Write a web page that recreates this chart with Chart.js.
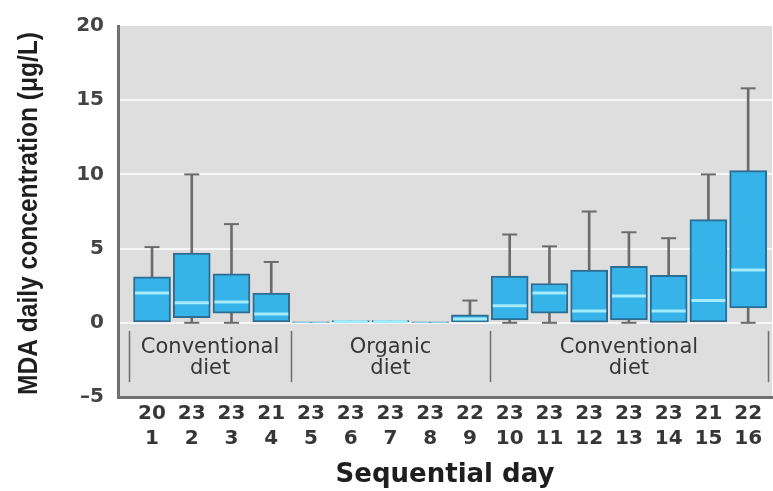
<!DOCTYPE html>
<html>
<head>
<meta charset="utf-8">
<script src="https://cdn.jsdelivr.net/npm/chart.js@4/dist/chart.umd.min.js"></script>
<style>
  html, body { margin: 0; padding: 0; background: #fff; }
  #wrap { width: 773px; height: 491px; }
</style>
</head>
<body>
<div id="wrap"><canvas id="chart" width="773" height="491"></canvas></div>
<script>
// sequential day and number of samples (n) per day
const days = [1, 2, 3, 4, 5, 6, 7, 8, 9, 10, 11, 12, 13, 14, 15, 16];
const samples = [20, 23, 23, 21, 23, 23, 23, 23, 22, 23, 23, 23, 23, 23, 21, 22];

// MDA daily concentration (µg/L) box plot statistics
const minValues = [0, 0, 0, 0, 0, 0, 0, 0, 0, 0, 0, 0, 0, 0, 0, 0];
const q1Values = [0, 0.35, 0.65, 0, 0, 0, 0, 0, 0, 0.2, 0.65, 0.05, 0.2, 0.02, 0, 1.0];
const medianValues = [2.0, 1.35, 1.4, 0.6, 0, 0.07, 0.07, 0, 0.25, 1.15, 2.0, 0.8, 1.8, 0.8, 1.5, 3.55];
const q3Values = [3.1, 4.7, 3.3, 2.0, 0.02, 0.15, 0.15, 0.02, 0.53, 3.15, 2.65, 3.55, 3.8, 3.2, 6.95, 10.25];
const maxValues = [5.1, 10.0, 6.65, 4.1, 0.02, 0.15, 0.15, 0.02, 1.5, 5.95, 5.15, 7.5, 6.1, 5.7, 10.0, 15.8];

const yTicks = [-5, 0, 5, 10, 15, 20];
const yTitle = "MDA daily concentration (\u03bcg/L)";

// diet periods shown under the boxes
const dietGroups = [
  { label: ["Conventional", "diet"], from: 0.42, to: 4.5 },
  { label: ["Organic", "diet"], from: 4.5, to: 9.5 },
  { label: ["Conventional", "diet"], from: 9.5, to: 16.5 },
];

const upperWhiskers = days.map((d, i) => ({ x: d, y: [q3Values[i], maxValues[i]] }));
const lowerWhiskers = days
  .map((d, i) => ({ x: d, y: [minValues[i], q1Values[i]] }))
  .filter((p) => p.y[1] - p.y[0] > 0.1);
const upperCaps = days
  .map((d, i) => ({ x: d, y: maxValues[i] }))
  .filter((p, i) => maxValues[i] - q3Values[i] > 0.1);
const lowerCaps = lowerWhiskers.map((p) => ({ x: p.x, y: p.y[0] }));
const boxes = days.map((d, i) => ({ x: d, y: [q1Values[i], q3Values[i]] }));
// flat boxes (no spread) show no median stripe
const medians = days
  .map((d, i) => ({ x: d, y: medianValues[i] }))
  .filter((p, i) => q3Values[i] - q1Values[i] > 0.05);

const whiskerColor = "#6b6b6b";
const textColor = "#363636";

const plotBackground = {
  id: "plotBackground",
  beforeDraw(chart) {
    const { ctx, chartArea: a } = chart;
    ctx.save();
    ctx.fillStyle = "#dedede";
    ctx.fillRect(a.left, a.top, a.right - a.left, a.bottom - a.top);
    ctx.restore();
  },
};

// narrow bold y title, squeezed to the height of the plot like the original
const narrowYTitle = {
  id: "narrowYTitle",
  afterDraw(chart) {
    const { ctx, chartArea: a } = chart;
    ctx.save();
    ctx.font = "bold 28px 'Liberation Sans'";
    ctx.fillStyle = "#1e1e1e";
    ctx.textAlign = "center";
    ctx.textBaseline = "middle";
    const w = ctx.measureText(yTitle).width;
    const k = Math.min(1, (a.bottom - a.top - 8) / w);
    ctx.translate(29, (a.top + a.bottom) / 2 + 2);
    ctx.rotate(-Math.PI / 2);
    ctx.scale(k, 1);
    ctx.fillText(yTitle, 0, 0);
    ctx.restore();
  },
};

const dietLabels = {
  id: "dietLabels",
  afterDatasetsDraw(chart) {
    const { ctx, scales: { x, y } } = chart;
    ctx.save();
    ctx.strokeStyle = "#6e6e6e";
    ctx.lineWidth = 1.5;
    const top = y.getPixelForValue(-0.55);
    const bottom = y.getPixelForValue(-4.0);
    const edges = [dietGroups[0].from, ...dietGroups.map((g) => g.to)];
    edges.forEach((e) => {
      const px = Math.round(x.getPixelForValue(e)) + 0.5;
      ctx.beginPath();
      ctx.moveTo(px, top);
      ctx.lineTo(px, bottom);
      ctx.stroke();
    });
    ctx.fillStyle = textColor;
    ctx.font = "21px 'DejaVu Sans'";
    ctx.textAlign = "center";
    ctx.textBaseline = "middle";
    dietGroups.forEach((g) => {
      const cx = (x.getPixelForValue(g.from) + x.getPixelForValue(g.to)) / 2;
      ctx.fillText(g.label[0], cx, y.getPixelForValue(-1.7));
      ctx.fillText(g.label[1], cx, y.getPixelForValue(-3.05));
    });
    ctx.restore();
  },
};

new Chart(document.getElementById("chart"), {
  data: {
    datasets: [
      {
        type: "line",
        data: medians,
        showLine: false,
        pointStyle: "line",
        pointRadius: 17,
        pointHoverRadius: 17,
        borderColor: "#a6ebfa",
        borderWidth: 3,
        order: 0,
      },
      {
        type: "bar",
        data: boxes,
        backgroundColor: "#36b4e9",
        borderColor: "#2c6d93",
        borderWidth: 2,
        borderSkipped: false,
        barThickness: 37,
        grouped: false,
        order: 1,
      },
      {
        type: "line",
        data: [...upperCaps, ...lowerCaps],
        showLine: false,
        pointStyle: "line",
        pointRadius: 7.5,
        pointHoverRadius: 7.5,
        borderColor: whiskerColor,
        borderWidth: 2,
        order: 2,
      },
      {
        type: "bar",
        data: [...upperWhiskers, ...lowerWhiskers],
        backgroundColor: whiskerColor,
        borderWidth: 0,
        barThickness: 2,
        grouped: false,
        order: 3,
      },
    ],
  },
  options: {
    responsive: false,
    animation: false,
    events: [],
    layout: { autoPadding: false, padding: { left: 0, right: 1, top: 23, bottom: 0 } },
    plugins: {
      legend: { display: false },
      tooltip: { enabled: false },
    },
    scales: {
      x: {
        type: "linear",
        offset: false,
        min: 0.144,
        max: 16.6,
        afterBuildTicks: (s) => {
          s.ticks = days.map((d) => ({ value: d }));
        },
        afterFit: (s) => {
          s.height = 94;
          s.paddingLeft = 0;
          s.paddingRight = 0;
        },
        ticks: {
          autoSkip: false,
          maxRotation: 0,
          padding: 4,
          color: textColor,
          font: { family: "'DejaVu Sans'", size: 20, weight: "bold", lineHeight: "25px" },
          callback: (v) => {
            const i = days.indexOf(v);
            return i < 0 ? "" : [String(samples[i]), String(days[i])];
          },
        },
        grid: { display: false, drawTicks: false },
        border: { display: true, color: "#707070", width: 3 },
        title: {
          display: true,
          text: "Sequential day",
          color: "#1e1e1e",
          font: { family: "'DejaVu Sans'", size: 26, weight: "bold", lineHeight: 1.2 },
          padding: { top: 0, bottom: 0 },
        },
      },
      y: {
        min: -5,
        max: 20,
        afterBuildTicks: (s) => {
          s.ticks = yTicks.map((v) => ({ value: v }));
        },
        afterFit: (s) => {
          s.width = 118;
        },
        ticks: {
          padding: 14,
          color: "#444",
          font: { family: "'DejaVu Sans'", size: 20, weight: "bold" },
          callback: (v) => (v < 0 ? "\u2013" + Math.abs(v) : String(v)),
        },
        grid: {
          drawTicks: false,
          lineWidth: 2,
          color: (c) => (c.tick && c.tick.value >= 0 && c.tick.value < 20 ? "#f7f7f7" : "rgba(0,0,0,0)"),
        },
        border: { display: true, color: "#707070", width: 3 },
        title: { display: false },
      },
    },
  },
  plugins: [plotBackground, dietLabels, narrowYTitle],
});
</script>
</body>
</html>
